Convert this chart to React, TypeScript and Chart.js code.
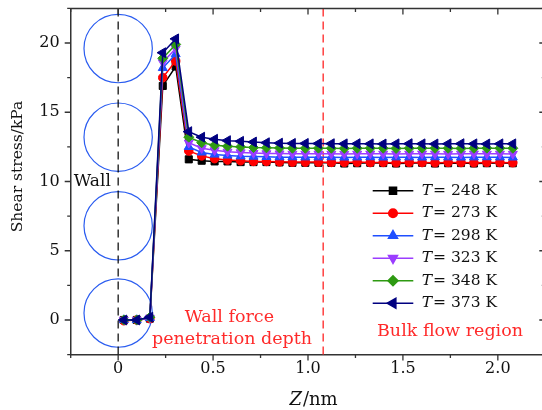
import React, { useEffect, useRef } from 'react';
import { Chart, registerables } from 'chart.js';
import { drawPoint } from 'chart.js/helpers';

Chart.register(...registerables);

// ---------- data ----------
const zValues = [
  0.030, 0.098, 0.167, 0.235, 0.303, 0.372, 0.440, 0.508, 0.576, 0.645, 0.713,
  0.781, 0.850, 0.918, 0.986, 1.055, 1.123, 1.191, 1.259, 1.328, 1.396, 1.464,
  1.533, 1.601, 1.669, 1.738, 1.806, 1.874, 1.942, 2.011, 2.079,
];
const temperatures = [248, 273, 298, 323, 348, 373];

const stress248 = [
  0.0, 0.0, 0.1, 16.9, 18.3, 11.6, 11.5, 11.45, 11.45, 11.4, 11.4, 11.4, 11.38, 11.35, 11.35,
  11.35, 11.35, 11.3, 11.32, 11.35, 11.33, 11.3, 11.32, 11.35, 11.3, 11.32, 11.33, 11.3, 11.32, 11.33, 11.32,
];
const stress273 = [
  -0.05, 0.0, 0.1, 17.5, 18.7, 12.2, 11.85, 11.65, 11.55, 11.5, 11.45, 11.45, 11.42, 11.4, 11.4,
  11.4, 11.38, 11.38, 11.4, 11.37, 11.38, 11.36, 11.38, 11.37, 11.36, 11.38, 11.37, 11.36, 11.38, 11.37, 11.36,
];
const stress298 = [
  0.0, 0.0, 0.15, 18.2, 19.2, 12.5, 12.1, 11.95, 11.88, 11.82, 11.8, 11.78, 11.76, 11.76, 11.75,
  11.75, 11.76, 11.74, 11.75, 11.76, 11.74, 11.75, 11.75, 11.74, 11.76, 11.75, 11.74, 11.75, 11.76, 11.75, 11.74,
];
const stress323 = [
  0.0, 0.0, 0.15, 18.6, 19.6, 12.8, 12.4, 12.25, 12.15, 12.1, 12.05, 12.03, 12.02, 12.0, 12.0,
  12.01, 12.0, 11.99, 12.0, 12.01, 12.0, 11.99, 12.0, 12.01, 12.0, 11.99, 12.0, 12.01, 12.0, 12.0, 11.99,
];
const stress348 = [
  0.0, 0.0, 0.2, 18.9, 19.9, 13.2, 12.8, 12.62, 12.55, 12.5, 12.45, 12.43, 12.42, 12.4, 12.4,
  12.41, 12.4, 12.39, 12.4, 12.41, 12.4, 12.39, 12.4, 12.41, 12.4, 12.4, 12.39, 12.4, 12.41, 12.4, 12.4,
];
const stress373 = [
  0.0, 0.0, 0.2, 19.3, 20.3, 13.6, 13.2, 13.05, 12.95, 12.9, 12.85, 12.8, 12.77, 12.75, 12.75,
  12.74, 12.73, 12.72, 12.73, 12.72, 12.71, 12.72, 12.73, 12.72, 12.71, 12.72, 12.73, 12.72, 12.71, 12.72, 12.72,
];
const stressSeries = [stress248, stress273, stress298, stress323, stress348, stress373];

const seriesColors = ['#000000', '#ff0000', '#1f4fff', '#9b3dff', '#2e9a12', '#000080'];
const seriesPointStyles = ['rect', 'circle', 'triangle', 'triangle', 'rectRot', 'triangle'];
const seriesRotations = [0, 0, 0, 180, 0, -90];
const seriesRadii = [5, 4.3, 5.2, 5.2, 5, 5.7];

const xTickValues = [-0.25, 0, 0.25, 0.5, 0.75, 1.0, 1.25, 1.5, 1.75, 2.0, 2.25];
const xTickLabels: Record<string, string> = { '0': '0', '0.5': '0.5', '1': '1.0', '1.5': '1.5', '2': '2.0' };
const yTickValues = [-2.5, 0, 2.5, 5, 7.5, 10, 12.5, 15, 17.5, 20, 22.5];
const yTickLabels: Record<string, string> = { '0': '0', '5': '5', '10': '10', '15': '15', '20': '20' };

const X_MIN = -0.25;
const X_MAX = 2.25;
const Y_MIN = -2.5;
const Y_MAX = 22.5;

// annotations (in data units)
const wallX = 0;
const boundaryX = 1.08;
const atomCentersY = [19.6, 13.2, 6.8, 0.5];
const atomRadiusX = 0.18;

const AXIS_COLOR = '#333333';
const TEXT_RED = '#ff2a2a';
const SERIF = '"DejaVu Serif", serif';

const CANVAS_W = 552;
const CANVAS_H = 410;

const annotationPlugin = {
  id: 'annotations',
  beforeDatasetsDraw(chart: any) {
    const { ctx, chartArea, scales } = chart;
    const xs = scales.x;
    const ys = scales.y;
    ctx.save();
    // atom circles
    const cx = xs.getPixelForValue(wallX);
    const r = xs.getPixelForValue(atomRadiusX) - cx;
    ctx.strokeStyle = '#2a5cf0';
    ctx.lineWidth = 1.2;
    atomCentersY.forEach((yv) => {
      ctx.beginPath();
      ctx.arc(cx, ys.getPixelForValue(yv), r, 0, Math.PI * 2);
      ctx.stroke();
    });
    // wall dashed line
    ctx.strokeStyle = '#000000';
    ctx.lineWidth = 1.2;
    ctx.setLineDash([8, 5]);
    ctx.beginPath();
    ctx.moveTo(cx, chartArea.top);
    ctx.lineTo(cx, chartArea.bottom);
    ctx.stroke();
    // boundary dashed line
    const bx = xs.getPixelForValue(boundaryX);
    ctx.strokeStyle = '#ff3333';
    ctx.lineWidth = 1.4;
    ctx.setLineDash([8, 5]);
    ctx.beginPath();
    ctx.moveTo(bx, chartArea.top);
    ctx.lineTo(bx, chartArea.bottom);
    ctx.stroke();
    ctx.setLineDash([]);
    ctx.restore();
  },
  afterDraw(chart: any) {
    const { ctx, chartArea, scales } = chart;
    const xs = scales.x;
    const ys = scales.y;
    ctx.save();
    // frame (top, right)
    ctx.strokeStyle = AXIS_COLOR;
    ctx.lineWidth = 1.5;
    ctx.beginPath();
    ctx.moveTo(chartArea.left, chartArea.top);
    ctx.lineTo(chartArea.right, chartArea.top);
    ctx.lineTo(chartArea.right, chartArea.bottom);
    ctx.stroke();
    // ticks
    ctx.lineWidth = 1.3;
    const majorLen = 6;
    const minorLen = 3.5;
    xTickValues.forEach((v) => {
      const px = xs.getPixelForValue(v);
      const len = xTickLabels[String(v)] !== undefined ? majorLen : minorLen;
      ctx.beginPath();
      ctx.moveTo(px, chartArea.bottom);
      ctx.lineTo(px, chartArea.bottom + len);
      ctx.moveTo(px, chartArea.top);
      ctx.lineTo(px, chartArea.top + len);
      ctx.stroke();
    });
    yTickValues.forEach((v) => {
      const py = ys.getPixelForValue(v);
      const len = yTickLabels[String(v)] !== undefined ? majorLen : minorLen;
      ctx.beginPath();
      ctx.moveTo(chartArea.left, py);
      ctx.lineTo(chartArea.left - len, py);
      ctx.moveTo(chartArea.right, py);
      ctx.lineTo(chartArea.right - len, py);
      ctx.stroke();
    });

    // texts
    ctx.textAlign = 'center';
    ctx.textBaseline = 'middle';
    ctx.fillStyle = '#111111';
    ctx.font = `17px ${SERIF}`;
    ctx.fillText('Wall', xs.getPixelForValue(-0.136), ys.getPixelForValue(9.96));

    ctx.fillStyle = TEXT_RED;
    ctx.font = `17.5px ${SERIF}`;
    ctx.fillText('Wall force', xs.getPixelForValue(0.586), ys.getPixelForValue(0.2));
    ctx.fillText('penetration depth', xs.getPixelForValue(0.6), ys.getPixelForValue(-1.4));
    ctx.fillText('Bulk flow region', xs.getPixelForValue(1.748), ys.getPixelForValue(-0.8));

    // axis titles
    ctx.fillStyle = '#111111';
    ctx.font = `italic 18px ${SERIF}`;
    const zW = ctx.measureText('Z').width;
    ctx.font = `18px ${SERIF}`;
    const restW = ctx.measureText('/nm').width;
    const tx = 313 - (zW + restW) / 2;
    const ty = 400;
    ctx.textAlign = 'left';
    ctx.font = `italic 18px ${SERIF}`;
    ctx.fillText('Z', tx, ty);
    ctx.font = `18px ${SERIF}`;
    ctx.fillText('/nm', tx + zW + 1, ty);

    ctx.save();
    ctx.translate(18, 166.5);
    ctx.rotate(-Math.PI / 2);
    ctx.textAlign = 'center';
    ctx.font = `15.5px ${SERIF}`;
    ctx.fillText('Shear stress/kPa', 0, 0);
    ctx.restore();

    // legend
    const lx0 = chartArea.left + 302;
    const lx1 = chartArea.left + 342.6;
    const textX = chartArea.left + 351;
    const row0 = 190.7;
    const rowStep = 22.5;
    temperatures.forEach((t, i) => {
      const y = row0 + i * rowStep;
      ctx.strokeStyle = seriesColors[i];
      ctx.lineWidth = 1.5;
      ctx.beginPath();
      ctx.moveTo(lx0, y);
      ctx.lineTo(lx1, y);
      ctx.stroke();
      ctx.fillStyle = seriesColors[i];
      drawPoint(ctx, {
        pointStyle: seriesPointStyles[i],
        radius: seriesRadii[i],
        rotation: seriesRotations[i],
        borderWidth: 1,
      } as any, (lx0 + lx1) / 2, y);
      ctx.fillStyle = '#111111';
      ctx.textAlign = 'left';
      ctx.font = `italic 15.5px ${SERIF}`;
      ctx.fillText('T', textX, y);
      const tw = ctx.measureText('T').width;
      ctx.font = `15.5px ${SERIF}`;
      ctx.fillText(`= ${t} K`, textX + tw + 1, y);
    });
    ctx.restore();
  },
};

export default function App() {
  const canvasRef = useRef<HTMLCanvasElement | null>(null);

  useEffect(() => {
    document.body.style.margin = '0';
    const canvas = canvasRef.current;
    if (!canvas) return;
    const datasets = temperatures.map((t, i) => ({
      label: `T = ${t} K`,
      data: zValues.map((z, j) => ({ x: z, y: stressSeries[i][j] })),
      borderColor: seriesColors[i],
      backgroundColor: seriesColors[i],
      pointBorderColor: seriesColors[i],
      pointBackgroundColor: seriesColors[i],
      pointStyle: seriesPointStyles[i],
      pointRotation: seriesRotations[i],
      pointRadius: seriesRadii[i],
      pointBorderWidth: 1,
      borderWidth: 1.5,
      tension: 0,
      order: temperatures.length - 1 - i,
    }));

    const chart = new Chart(canvas, {
      type: 'line',
      data: { datasets },
      options: {
        animation: false,
        responsive: false,
        devicePixelRatio: 1,
        layout: { padding: { top: 8.4, right: 2.3, left: 0, bottom: 0 } },
        plugins: { legend: { display: false }, tooltip: { enabled: false }, title: { display: false } },
        scales: {
          x: {
            type: 'linear',
            min: X_MIN,
            max: X_MAX,
            afterBuildTicks: (scale: any) => {
              scale.ticks = xTickValues.map((v) => ({ value: v }));
            },
            afterFit: (scale: any) => {
              scale.height = 55.4;
              scale.paddingLeft = 0;
              scale.paddingRight = 0;
              scale.paddingTop = 0;
              scale.paddingBottom = 0;
            },
            grid: { display: false, drawTicks: false },
            border: { display: true, color: AXIS_COLOR, width: 1.5 },
            ticks: {
              autoSkip: false,
              maxRotation: 0,
              padding: 5,
              color: '#111111',
              font: { family: SERIF, size: 16 },
              callback: (v: any) => xTickLabels[String(v)] ?? '',
            },
          },
          y: {
            type: 'linear',
            min: Y_MIN,
            max: Y_MAX,
            afterBuildTicks: (scale: any) => {
              scale.ticks = yTickValues.map((v) => ({ value: v }));
            },
            afterFit: (scale: any) => {
              scale.width = 70.7;
              scale.paddingLeft = 0;
              scale.paddingRight = 0;
              scale.paddingTop = 0;
              scale.paddingBottom = 0;
            },
            grid: { display: false, drawTicks: false },
            border: { display: true, color: AXIS_COLOR, width: 1.5 },
            ticks: {
              autoSkip: false,
              padding: 11,
              color: '#111111',
              font: { family: SERIF, size: 16 },
              callback: (v: any) => yTickLabels[String(v)] ?? '',
            },
          },
        },
      },
      plugins: [annotationPlugin],
    } as any);
    return () => chart.destroy();
  }, []);

  return (
    <div style={{ position: 'fixed', left: 0, top: 0, width: 542, height: 410, overflow: 'hidden', background: '#fff' }}>
      <canvas ref={canvasRef} width={CANVAS_W} height={CANVAS_H} style={{ width: CANVAS_W, height: CANVAS_H, display: 'block' }} />
    </div>
  );
}
